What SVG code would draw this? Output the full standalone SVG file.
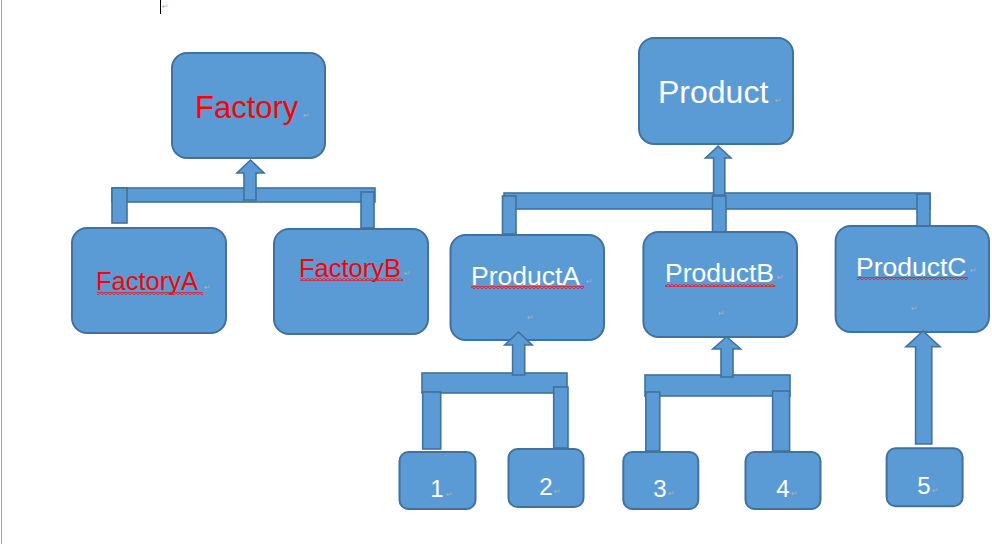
<svg xmlns="http://www.w3.org/2000/svg" width="992" height="544" viewBox="0 0 992 544">
<style>
.box{fill:#5B9BD5;stroke:#41719C;stroke-width:2}
.con{fill:#5B9BD5;stroke:#41719C;stroke-width:1.6}
.red{font-family:"Liberation Sans",Arial,sans-serif;fill:#FF0000}
.wht{font-family:"Liberation Sans",Arial,sans-serif;fill:#FFFFFF}
.pm{font-family:"DejaVu Sans",sans-serif;font-size:8px;fill:#B0B0B0}
</style>
<defs>
<pattern id="sq" width="4" height="3" patternUnits="userSpaceOnUse">
<path d="M0,2.5 L2,0.5 L4,2.5" fill="none" stroke="#E0202C" stroke-width="1.2"/>
</pattern>
</defs>
<rect width="992" height="544" fill="#FFFFFF"/>
<line x1="1.5" y1="0" x2="1.5" y2="544" stroke="#A8A8A8" stroke-width="1"/>
<line x1="160.5" y1="0" x2="160.5" y2="14" stroke="#000" stroke-width="1"/>
<text class="pm" x="162" y="9">↵</text>

<g id="connectors">
<!-- Factory -->
<rect class="con" x="112" y="188" width="263" height="14"/>
<rect class="con" x="112" y="188" width="15" height="35"/>
<rect class="con" x="361" y="192" width="13" height="36"/>
<polygon class="con" points="244,200 244,173 237,173 250.5,160 264,173 256,173 256,200"/>
<!-- Product -->
<rect class="con" x="504" y="193" width="426" height="16"/>
<polygon class="con" points="713.6,195 713.6,158 705.5,158 718.2,146 731,158 724.8,158 724.8,195"/>
<rect class="con" x="502.5" y="196" width="13.5" height="38"/>
<rect class="con" x="712.5" y="196" width="13.5" height="36"/>
<rect class="con" x="917" y="194" width="13" height="36"/>
<!-- ProductA -->
<rect class="con" x="422" y="373" width="145" height="20"/>
<rect class="con" x="422.7" y="392" width="18" height="57"/>
<rect class="con" x="553.7" y="387" width="14.3" height="61"/>
<!-- ProductB -->
<rect class="con" x="645" y="375" width="145" height="21"/>
<rect class="con" x="645.8" y="392" width="14" height="59"/>
<rect class="con" x="772.6" y="391" width="17" height="60"/>
</g>

<g id="Factory">
<rect class="box" x="172" y="53" width="153" height="105" rx="15"/>
<text class="red" x="195" y="118" font-size="31">Factory</text>
<text class="pm" x="303" y="118">↵</text>
</g>
<g id="FactoryA">
<rect class="box" x="72" y="228" width="154" height="105" rx="15"/>
<text class="red" x="96" y="290" font-size="25.5">FactoryA</text>
<rect x="97" y="292" width="106" height="3" fill="url(#sq)"/>
<text class="pm" x="204" y="290">↵</text>
</g>
<g id="FactoryB">
<rect class="box" x="274" y="229" width="154" height="105" rx="15"/>
<text class="red" x="299" y="277" font-size="25.5">FactoryB</text>
<rect x="300" y="278" width="103" height="3" fill="url(#sq)"/>
<text class="pm" x="404" y="276">↵</text>
</g>
<g id="Product">
<rect class="box" x="639" y="38" width="154" height="106" rx="15"/>
<text class="wht" x="658" y="103" font-size="32">Product</text>
<text class="pm" x="775" y="103">↵</text>
</g>
<g id="ProductA">
<rect class="box" x="450.5" y="235" width="153.5" height="105" rx="15"/>
<text class="wht" x="471" y="285" font-size="26.5">ProductA</text>
<rect x="471" y="286" width="113" height="3" fill="url(#sq)"/>
<text class="pm" x="586" y="284">↵</text>
<text class="pm" x="527" y="320">↵</text>
</g>
<g id="ProductB">
<rect class="box" x="643.4" y="232" width="153.6" height="105" rx="15"/>
<text class="wht" x="665" y="282" font-size="26.5">ProductB</text>
<rect x="665" y="284" width="110" height="3" fill="url(#sq)"/>
<text class="pm" x="777" y="280">↵</text>
<text class="pm" x="718" y="316">↵</text>
</g>
<g id="ProductC">
<rect class="box" x="835.6" y="226" width="153.4" height="106" rx="15"/>
<text class="wht" x="856" y="276" font-size="26.5">ProductC</text>
<rect x="857" y="277" width="111" height="3" fill="url(#sq)"/>
<text class="pm" x="970" y="273">↵</text>
<text class="pm" x="911" y="311">↵</text>
</g>

<g id="arrows">
<polygon class="con" points="512.6,375 512.6,345 504.7,345 518.5,332 532.2,345 524.7,345 524.7,375"/>
<polygon class="con" points="721,377 721,349 712.8,349 726.7,336.7 740.6,349 733,349 733,377"/>
<polygon class="con" points="915.6,444 915.6,346.7 906,346.7 923,331 940,346.7 931.8,346.7 931.8,444"/>
</g>

<g id="n1">
<rect class="box" x="399.5" y="452" width="76" height="57" rx="9"/>
<text class="wht" x="437" y="497" font-size="24" text-anchor="middle">1</text>
<text class="pm" x="446" y="497">↵</text>
</g>
<g id="n2">
<rect class="box" x="508.5" y="449" width="75" height="58" rx="9"/>
<text class="wht" x="546" y="495" font-size="24" text-anchor="middle">2</text>
<text class="pm" x="554" y="494">↵</text>
</g>
<g id="n3">
<rect class="box" x="623.3" y="452" width="75" height="57" rx="9"/>
<text class="wht" x="660" y="497" font-size="24" text-anchor="middle">3</text>
<text class="pm" x="668" y="496">↵</text>
</g>
<g id="n4">
<rect class="box" x="745.5" y="452" width="75" height="57" rx="9"/>
<text class="wht" x="783" y="497" font-size="24" text-anchor="middle">4</text>
<text class="pm" x="791" y="496">↵</text>
</g>
<g id="n5">
<rect class="box" x="886.6" y="448.3" width="76" height="58" rx="9"/>
<text class="wht" x="924" y="494" font-size="24" text-anchor="middle">5</text>
<text class="pm" x="932" y="493">↵</text>
</g>
</svg>
